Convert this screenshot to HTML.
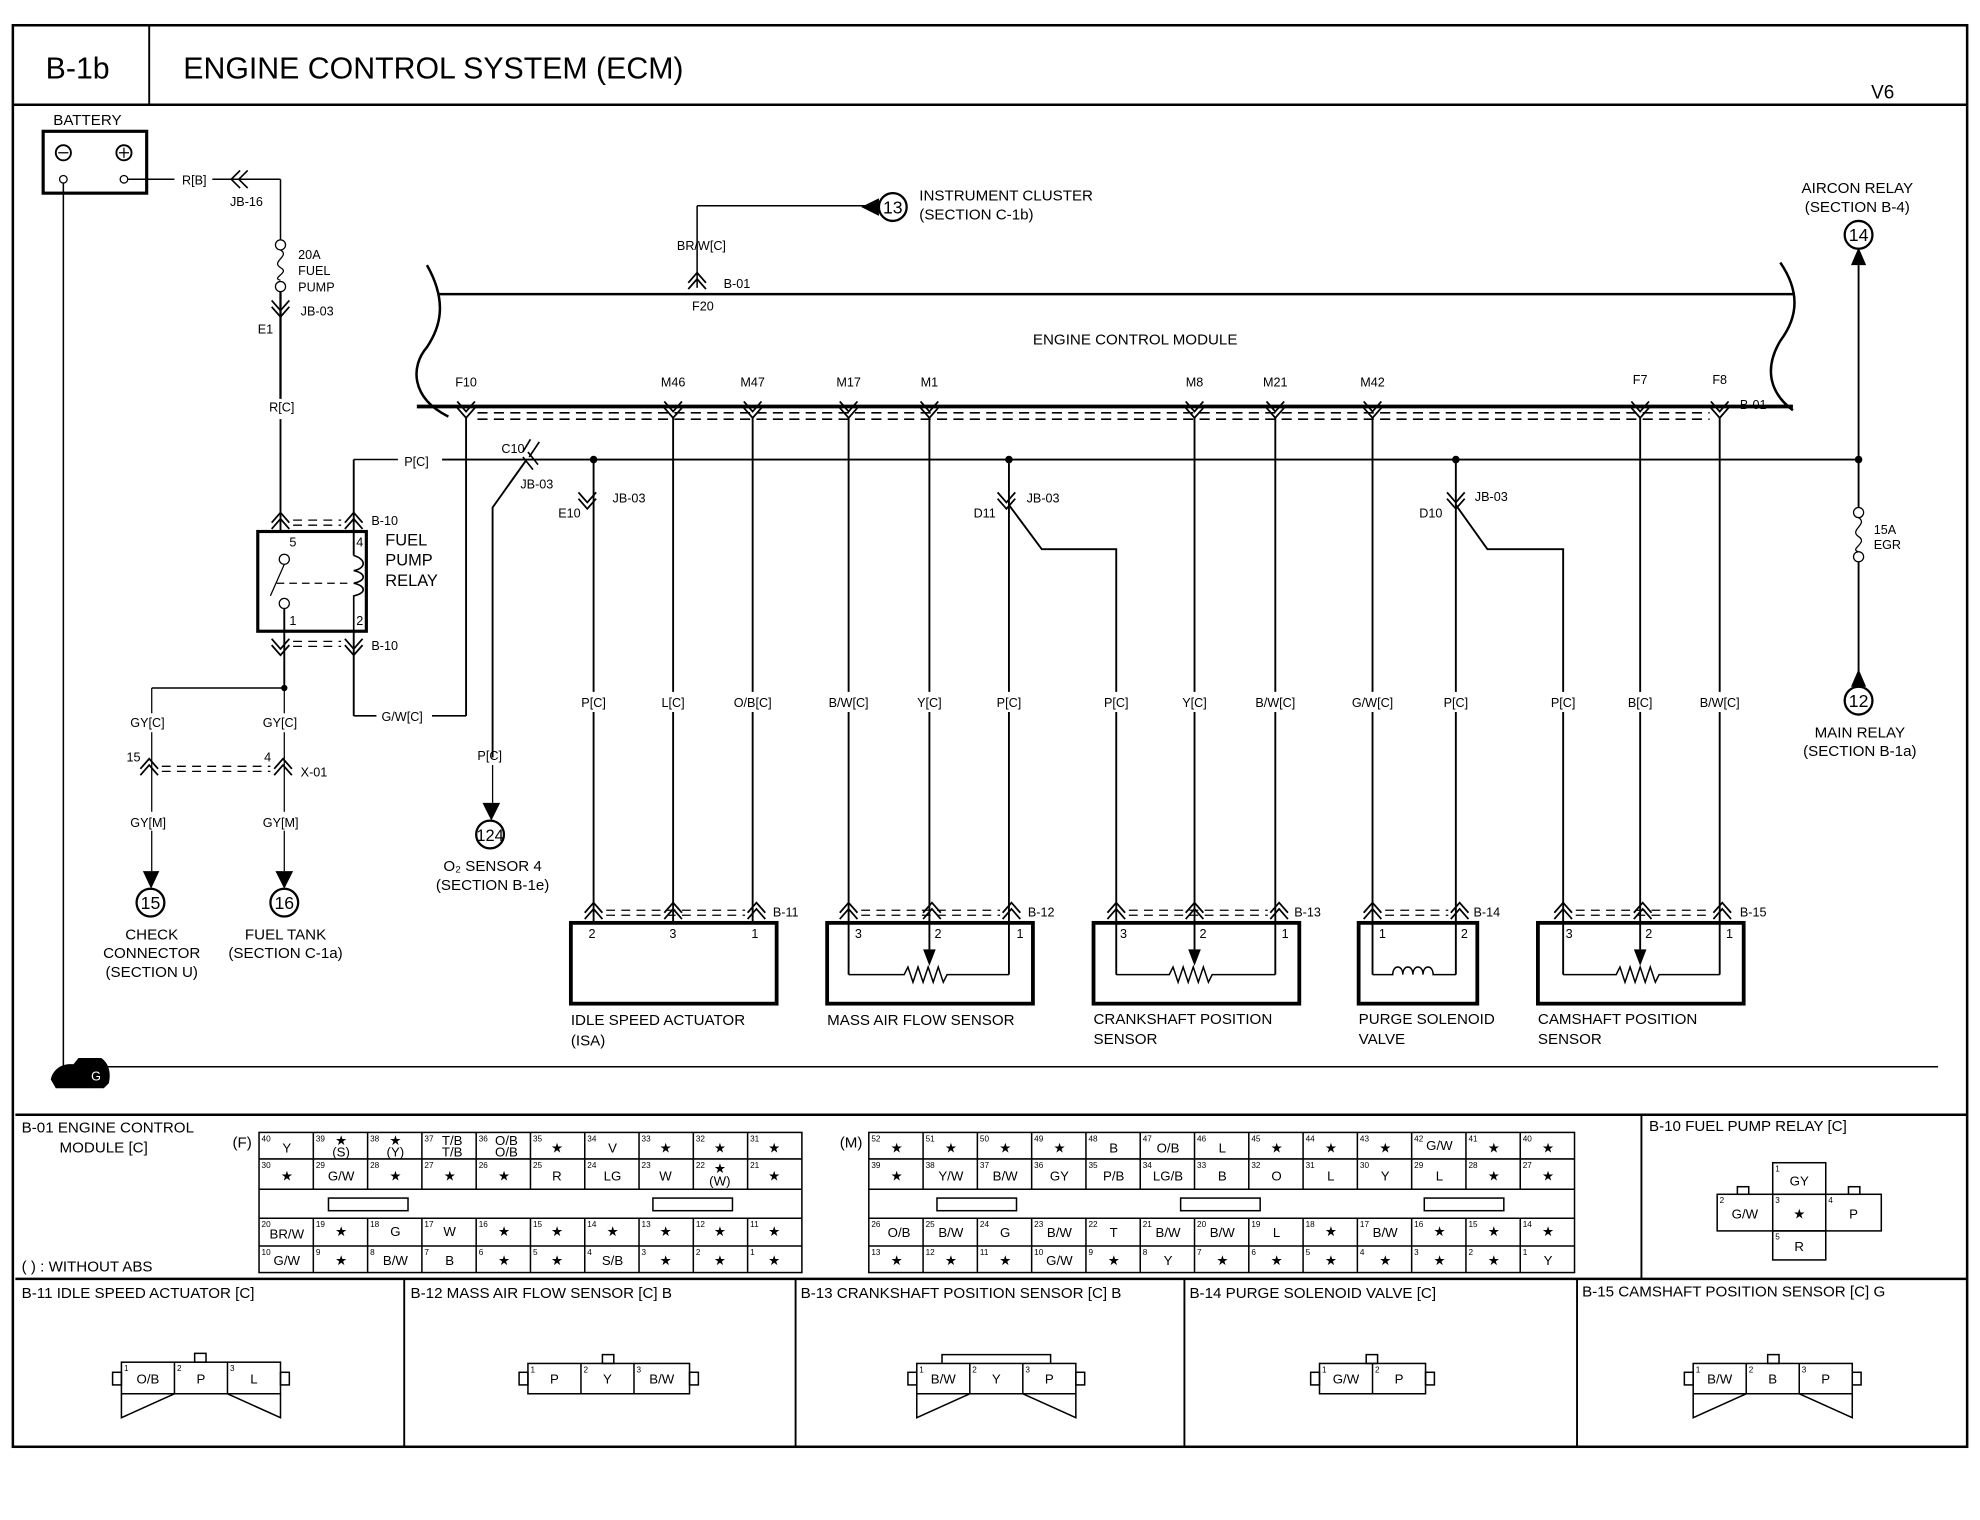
<!DOCTYPE html>
<html><head><meta charset="utf-8">
<style>
html,body{margin:0;padding:0;background:#fff;}
svg{display:block;}
text{font-family:"Liberation Sans",sans-serif;fill:#000;}
.s{font-size:10px;}
.m{font-size:12px;}
.l{font-size:13px;}
.n{font-size:6.5px;}
.c{font-size:10.5px;text-anchor:middle;}
</style></head><body>
<svg width="1980" height="1520" viewBox="0 0 1568 1204" xmlns="http://www.w3.org/2000/svg">
<defs>
<g id="dn" fill="none" stroke="#000" stroke-width="1.4"><path d="M-7,-4 L0,4 L7,-4 M-7,1 L0,9 L7,1"/></g>
<g id="up" fill="none" stroke="#000" stroke-width="1.4"><path d="M-7,4 L0,-4 L7,4 M-7,9 L0,1 L7,9"/></g>
</defs>
<g fill="none" stroke="#000">
<!-- frame -->
<rect x="10" y="20" width="1548" height="1126" stroke-width="2"/>
<line x1="10" y1="83" x2="1558" y2="83" stroke-width="2"/>
<line x1="118" y1="20" x2="118" y2="83" stroke-width="1.5"/>
<line x1="12" y1="883" x2="1558" y2="883" stroke-width="2"/>
<line x1="12" y1="1013" x2="1558" y2="1013" stroke-width="2"/>
<line x1="1300" y1="883" x2="1300" y2="1013" stroke-width="1.5"/>
<line x1="320" y1="1013" x2="320" y2="1146" stroke-width="1.5"/>
<line x1="630" y1="1013" x2="630" y2="1146" stroke-width="1.5"/>
<line x1="938" y1="1013" x2="938" y2="1146" stroke-width="1.5"/>
<line x1="1249" y1="1013" x2="1249" y2="1146" stroke-width="1.5"/>
<line x1="80" y1="845" x2="1535" y2="845" stroke-width="1.2"/>

<!-- battery -->
<rect x="34" y="104" width="82" height="49" stroke-width="2.5"/>
<circle cx="50" cy="121" r="6" stroke-width="1.5"/><line x1="46" y1="121" x2="54" y2="121"/>
<circle cx="98" cy="121" r="6" stroke-width="1.5"/><line x1="94" y1="121" x2="102" y2="121"/><line x1="98" y1="117" x2="98" y2="125"/>
<circle cx="50" cy="142" r="3"/><circle cx="98" cy="142" r="3"/>
<line x1="50" y1="145" x2="50" y2="845" stroke-width="1.2"/>
<line x1="101" y1="142" x2="138" y2="142" stroke-width="1.2"/>
<line x1="168" y1="142" x2="222" y2="142" stroke-width="1.2"/>
<path d="M190,135 L183,142 L190,149 M196,135 L189,142 L196,149" stroke-width="1.3"/>
<line x1="222" y1="142" x2="222" y2="190" stroke-width="1.2"/>
<circle cx="222" cy="194" r="4"/><path d="M222,198 C230,203 214,207 222,212 C230,216 214,220 222,222"/>
<circle cx="222" cy="227" r="4"/>
<line x1="222" y1="231" x2="222" y2="316" stroke-width="1.8"/>
<line x1="222" y1="332" x2="222" y2="420" stroke-width="1.5"/>
<use href="#dn" x="222" y="242"/>
<!-- relay -->
<use href="#up" x="222" y="410"/><use href="#up" x="280" y="410"/>
<path d="M232,412 H270 M232,416 H270" stroke-dasharray="7,5"/>
<rect x="204" y="421" width="86" height="79" stroke-width="2.5"/>
<line x1="280" y1="364" x2="280" y2="440" stroke-width="1.5"/>
<line x1="280" y1="364" x2="315" y2="364" stroke-width="1.2"/>
<circle cx="225" cy="443" r="4"/><circle cx="225" cy="478" r="4"/>
<line x1="225" y1="447" x2="214" y2="472"/>
<line x1="219" y1="462" x2="275" y2="462" stroke-dasharray="6,4"/>
<path d="M280,440 C290,443 290,450 280,452 C290,454 290,460 280,462 C290,464 290,470 280,472 L280,500" stroke-width="1.3"/>
<line x1="225" y1="482" x2="225" y2="545" stroke-width="1.5"/>
<line x1="280" y1="500" x2="280" y2="567" stroke-width="1.5"/>
<use href="#dn" x="222" y="510"/><use href="#dn" x="280" y="510"/>
<path d="M232,508 H270 M232,512 H270" stroke-dasharray="7,5"/>
<line x1="280" y1="567" x2="298" y2="567" stroke-width="1.2"/>
<line x1="342" y1="567" x2="369" y2="567" stroke-width="1.2"/>
<line x1="120" y1="545" x2="225" y2="545" stroke-width="1.2"/>
<line x1="120" y1="545" x2="120" y2="565"/>
<line x1="225" y1="545" x2="225" y2="565"/>
<line x1="120" y1="580" x2="120" y2="643"/>
<line x1="225" y1="580" x2="225" y2="643"/>
<use href="#up" x="118" y="605"/><use href="#up" x="224" y="605"/>
<path d="M128,607 H214 M128,611 H214" stroke-dasharray="7,5"/>
<line x1="120" y1="658" x2="120" y2="690"/>
<line x1="225" y1="658" x2="225" y2="690"/>
<circle cx="119" cy="715" r="11" stroke-width="1.8"/><circle cx="225" cy="715" r="11" stroke-width="1.8"/>

<!-- P[C] main line -->
<line x1="350" y1="364" x2="1472" y2="364" stroke-width="1.5"/>
<!-- C10 -->
<path d="M414,358 L420,348 M419,362 L427,350 M414,362 L422,372 M418,358 L426,368" stroke-width="1.3"/>
<path d="M417,364 L390,402 L390,600" stroke-width="1.5"/>
<line x1="390" y1="606" x2="390" y2="636"/>
<circle cx="388" cy="661" r="11" stroke-width="1.8"/>

<!-- ECM -->
<path d="M338,210 C355,240 348,260 338,275 C325,290 325,315 355,330" stroke-width="2"/>
<path d="M1410,208 C1425,230 1425,250 1410,270 C1398,290 1400,310 1420,325" stroke-width="2"/>
<line x1="347" y1="233" x2="1420" y2="233" stroke-width="2"/>
<line x1="330" y1="322" x2="1420" y2="322" stroke-width="3"/>
<path d="M378,327 H1354 M378,332 H1354" stroke-dasharray="8,5" stroke-width="1.3"/>
<line x1="552" y1="163" x2="552" y2="228" stroke-width="1.2"/>
<line x1="552" y1="163" x2="690" y2="163" stroke-width="1.2"/>
<use href="#up" x="552" y="220"/>
<circle cx="707" cy="164" r="11" stroke-width="1.8"/>
<circle cx="1472" cy="186" r="11" stroke-width="1.8"/>
<circle cx="1472" cy="555" r="11" stroke-width="1.8"/>
<line x1="1472" y1="210" x2="1472" y2="402" stroke-width="1.5"/>
<circle cx="1472" cy="406" r="4"/><path d="M1472,410 C1480,415 1464,420 1472,425 C1480,430 1464,435 1472,437"/><circle cx="1472" cy="441" r="4"/>
<line x1="1472" y1="445" x2="1472" y2="532" stroke-width="1.5"/>

<!-- pin chevrons -->
<use href="#dn" x="369" y="322"/><use href="#dn" x="533" y="322"/><use href="#dn" x="596" y="322"/><use href="#dn" x="672" y="322"/><use href="#dn" x="736" y="322"/><use href="#dn" x="946" y="322"/><use href="#dn" x="1010" y="322"/><use href="#dn" x="1087" y="322"/><use href="#dn" x="1299" y="322"/><use href="#dn" x="1362" y="322"/>
<!-- wires -->
<g stroke-width="1.5">
<line x1="369" y1="330" x2="369" y2="567"/>
<line x1="470" y1="364" x2="470" y2="548"/><line x1="470" y1="564" x2="470" y2="730"/>
<line x1="533" y1="330" x2="533" y2="548"/><line x1="533" y1="564" x2="533" y2="730"/>
<line x1="596" y1="330" x2="596" y2="548"/><line x1="596" y1="564" x2="596" y2="730"/>
<line x1="672" y1="330" x2="672" y2="548"/><line x1="672" y1="564" x2="672" y2="772"/>
<line x1="736" y1="330" x2="736" y2="548"/><line x1="736" y1="564" x2="736" y2="752"/>
<line x1="799" y1="364" x2="799" y2="548"/><line x1="799" y1="564" x2="799" y2="772"/>
<path d="M799,400 L825,435 L884,435 L884,548"/><line x1="884" y1="564" x2="884" y2="772"/>
<line x1="946" y1="330" x2="946" y2="548"/><line x1="946" y1="564" x2="946" y2="752"/>
<line x1="1010" y1="330" x2="1010" y2="548"/><line x1="1010" y1="564" x2="1010" y2="772"/>
<line x1="1087" y1="330" x2="1087" y2="548"/><line x1="1087" y1="564" x2="1087" y2="772"/>
<line x1="1153" y1="364" x2="1153" y2="548"/><line x1="1153" y1="564" x2="1153" y2="772"/>
<path d="M1153,400 L1178,435 L1238,435 L1238,548"/><line x1="1238" y1="564" x2="1238" y2="772"/>
<line x1="1299" y1="330" x2="1299" y2="548"/><line x1="1299" y1="564" x2="1299" y2="752"/>
<line x1="1362" y1="330" x2="1362" y2="548"/><line x1="1362" y1="564" x2="1362" y2="772"/>
</g>
<use href="#dn" x="465" y="394"/><use href="#dn" x="797" y="394"/><use href="#dn" x="1153" y="394"/>
<!-- sensor chevrons -->
<use href="#up" x="470" y="719"/><use href="#up" x="533" y="719"/><use href="#up" x="599" y="719"/>
<use href="#up" x="672" y="719"/><use href="#up" x="738" y="719"/><use href="#up" x="801" y="719"/>
<use href="#up" x="884" y="719"/><use href="#up" x="946" y="719"/><use href="#up" x="1013" y="719"/>
<use href="#up" x="1087" y="719"/><use href="#up" x="1156" y="719"/>
<use href="#up" x="1238" y="719"/><use href="#up" x="1301" y="719"/><use href="#up" x="1364" y="719"/>
<g stroke-dasharray="7,5"><path d="M480,721 H590 M480,725 H590"/><path d="M682,721 H792 M682,725 H792"/><path d="M894,721 H1004 M894,725 H1004"/><path d="M1097,721 H1147 M1097,725 H1147"/><path d="M1248,721 H1355 M1248,725 H1355"/></g>
<!-- sensor boxes -->
<g stroke-width="3">
<rect x="452" y="731" width="163" height="64"/>
<rect x="655" y="731" width="163" height="64"/>
<rect x="866" y="731" width="163" height="64"/>
<rect x="1076" y="731" width="94" height="64"/>
<rect x="1218" y="731" width="163" height="64"/>
</g>
<g stroke-width="1.2">
<path d="M672,772 H716 L719,766 L723,778 L727,766 L731,778 L735,766 L739,778 L743,766 L747,778 L750,772 H799"/>
<path d="M884,772 H926 L929,766 L933,778 L937,766 L941,778 L945,766 L949,778 L953,766 L957,778 L960,772 H1010"/>
<path d="M1238,772 H1280 L1283,766 L1287,778 L1291,766 L1295,778 L1299,766 L1303,778 L1307,766 L1311,778 L1314,772 H1362"/>
<path d="M1087,772 H1103 C1103,764 1111,764 1111,772 C1111,764 1119,764 1119,772 C1119,764 1127,764 1127,772 C1127,764 1135,764 1135,772 H1153"/>
</g>

<!-- tables F -->
<g stroke-width="1.2">
<rect x="205" y="897" width="430" height="111"/>
<path d="M205,918H635M205,942H635M205,965H635M205,987H635"/>
<path d="M248,897V942M291,897V942M334,897V942M377,897V942M420,897V942M463,897V942M506,897V942M549,897V942M592,897V942"/>
<path d="M248,965V1008M291,965V1008M334,965V1008M377,965V1008M420,965V1008M463,965V1008M506,965V1008M549,965V1008M592,965V1008"/>
<rect x="260" y="949" width="63" height="10"/><rect x="517" y="949" width="63" height="10"/>
<rect x="688" y="897" width="559" height="111"/>
<path d="M688,918H1247M688,942H1247M688,965H1247M688,987H1247"/>
<path d="M731,897V942M774,897V942M817,897V942M860,897V942M903,897V942M946,897V942M989,897V942M1032,897V942M1075,897V942M1118,897V942M1161,897V942M1204,897V942"/>
<path d="M731,965V1008M774,965V1008M817,965V1008M860,965V1008M903,965V1008M946,965V1008M989,965V1008M1032,965V1008M1075,965V1008M1118,965V1008M1161,965V1008M1204,965V1008"/>
<rect x="742" y="949" width="63" height="10"/><rect x="935" y="949" width="63" height="10"/><rect x="1128" y="949" width="63" height="10"/>
<!-- B-10 -->
<rect x="1404" y="921" width="42" height="25"/><rect x="1360" y="946" width="130" height="29"/><path d="M1404,946V975M1446,946V975"/><rect x="1404" y="975" width="42" height="23"/>
<rect x="1376" y="940" width="9" height="6"/><rect x="1464" y="940" width="9" height="6"/>
<!-- bottom connectors -->
<rect x="96" y="1079" width="126" height="25"/><path d="M138,1079V1104M180,1079V1104M96,1104V1123L138,1104M222,1104V1123L180,1104"/><rect x="89" y="1087" width="7" height="10"/><rect x="222" y="1087" width="7" height="10"/><rect x="154" y="1072" width="9" height="7"/>
<rect x="418" y="1080" width="128" height="24"/><path d="M460,1080V1104M502,1080V1104"/><rect x="411" y="1087" width="7" height="10"/><rect x="546" y="1087" width="7" height="10"/><rect x="477" y="1073" width="9" height="7"/>
<rect x="726" y="1080" width="126" height="24"/><path d="M768,1080V1104M810,1080V1104M726,1104V1123L768,1104M852,1104V1123L810,1104M746,1080V1073H832V1080"/><rect x="719" y="1087" width="7" height="10"/><rect x="852" y="1087" width="7" height="10"/>
<rect x="1045" y="1080" width="84" height="24"/><path d="M1087,1080V1104"/><rect x="1038" y="1087" width="7" height="10"/><rect x="1129" y="1087" width="7" height="10"/><rect x="1082" y="1073" width="9" height="7"/>
<rect x="1341" y="1080" width="126" height="24"/><path d="M1383,1080V1104M1425,1080V1104M1341,1104V1123L1383,1104M1467,1104V1123L1425,1104"/><rect x="1334" y="1087" width="7" height="10"/><rect x="1467" y="1087" width="7" height="10"/><rect x="1400" y="1073" width="9" height="7"/>
</g>
</g>
<!-- arrows / dots -->
<g fill="#000">
<circle cx="470" cy="364" r="3"/><circle cx="799" cy="364" r="3"/><circle cx="1153" cy="364" r="3"/><circle cx="1472" cy="364" r="3"/><circle cx="225" cy="545" r="2.5"/>
<path d="M113,690 L126,690 L119.5,704 Z"/><path d="M218,690 L232,690 L225,704 Z"/>
<path d="M382,636 L396,636 L389,650 Z"/>
<path d="M682,164 L696,157 L696,171 Z"/>
<path d="M1466,210 L1478,210 L1472,196 Z"/>
<path d="M1466,544 L1478,544 L1472,530 Z"/>
<path d="M731,752 L741,752 L736,765 Z"/><path d="M941,752 L951,752 L946,765 Z"/><path d="M1294,752 L1304,752 L1299,765 Z"/>
<path d="M40,855 C42,846 50,842 58,843 L62,838 L80,838 C86,842 88,850 86,858 L82,862 L44,862 Z"/>
</g>
<text x="72" y="856" style="font-size:10px;fill:#fff">G</text>

<!-- text -->
<text x="36" y="62" style="font-size:24px">B-1b</text>
<text x="145" y="62" style="font-size:24px">ENGINE CONTROL SYSTEM (ECM)</text>
<text x="1482" y="78" style="font-size:15px">V6</text>
<text x="42" y="99" class="m">BATTERY</text>
<text x="144" y="146" class="s">R[B]</text>
<text x="182" y="163" class="s">JB-16</text>
<text x="236" y="205" class="s">20A</text><text x="236" y="218" class="s">FUEL</text><text x="236" y="231" class="s">PUMP</text>
<text x="238" y="250" class="s">JB-03</text><text x="204" y="264" class="s">E1</text>
<text x="213" y="326" class="s">R[C]</text>
<text x="320" y="369" class="s">P[C]</text>
<text x="294" y="416" class="s">B-10</text><text x="294" y="515" class="s">B-10</text>
<text x="229" y="433" class="s">5</text><text x="282" y="433" class="s">4</text><text x="229" y="495" class="s">1</text><text x="282" y="495" class="s">2</text>
<text x="305" y="432" class="l">FUEL</text><text x="305" y="448" class="l">PUMP</text><text x="305" y="464" class="l">RELAY</text>
<text x="302" y="571" class="s">G/W[C]</text>
<text x="103" y="576" class="s">GY[C]</text><text x="208" y="576" class="s">GY[C]</text>
<text x="100" y="603" class="s">15</text><text x="209" y="603" class="s">4</text><text x="238" y="615" class="s">X-01</text>
<text x="103" y="655" class="s">GY[M]</text><text x="208" y="655" class="s">GY[M]</text>
<text x="119" y="720" class="c" style="font-size:14px">15</text><text x="225" y="720" class="c" style="font-size:14px">16</text>
<text x="120" y="744" class="m" text-anchor="middle">CHECK</text><text x="120" y="759" class="m" text-anchor="middle">CONNECTOR</text><text x="120" y="774" class="m" text-anchor="middle">(SECTION U)</text>
<text x="226" y="744" class="m" text-anchor="middle">FUEL TANK</text><text x="226" y="759" class="m" text-anchor="middle">(SECTION C-1a)</text>
<text x="397" y="359" class="s">C10</text><text x="412" y="387" class="s">JB-03</text>
<text x="378" y="602" class="s">P[C]</text>
<text x="388" y="666" class="c" style="font-size:13px">124</text>
<text x="390" y="690" class="m" text-anchor="middle">O₂ SENSOR 4</text><text x="390" y="705" class="m" text-anchor="middle">(SECTION B-1e)</text>
<text x="536" y="198" class="s">BR/W[C]</text><text x="573" y="228" class="s">B-01</text><text x="548" y="246" class="s">F20</text>
<text x="707" y="169" class="c" style="font-size:14px">13</text>
<text x="728" y="159" class="m">INSTRUMENT CLUSTER</text><text x="728" y="174" class="m">(SECTION C-1b)</text>
<text x="899" y="273" class="m" text-anchor="middle">ENGINE CONTROL MODULE</text>
<g class="s" text-anchor="middle"><text x="369" y="306">F10</text><text x="533" y="306">M46</text><text x="596" y="306">M47</text><text x="672" y="306">M17</text><text x="736" y="306">M1</text><text x="946" y="306">M8</text><text x="1010" y="306">M21</text><text x="1087" y="306">M42</text><text x="1299" y="304">F7</text><text x="1362" y="304">F8</text></g>
<text x="1378" y="324" class="s">B-01</text>
<text x="485" y="398" class="s">JB-03</text><text x="442" y="410" class="s">E10</text>
<text x="813" y="398" class="s">JB-03</text><text x="771" y="410" class="s">D11</text>
<text x="1168" y="397" class="s">JB-03</text><text x="1124" y="410" class="s">D10</text>
<g class="s" text-anchor="middle"><text x="470" y="560">P[C]</text><text x="533" y="560">L[C]</text><text x="596" y="560">O/B[C]</text><text x="672" y="560">B/W[C]</text><text x="736" y="560">Y[C]</text><text x="799" y="560">P[C]</text><text x="884" y="560">P[C]</text><text x="946" y="560">Y[C]</text><text x="1010" y="560">B/W[C]</text><text x="1087" y="560">G/W[C]</text><text x="1153" y="560">P[C]</text><text x="1238" y="560">P[C]</text><text x="1299" y="560">B[C]</text><text x="1362" y="560">B/W[C]</text></g>
<text x="1471" y="153" class="m" text-anchor="middle">AIRCON RELAY</text><text x="1471" y="168" class="m" text-anchor="middle">(SECTION B-4)</text>
<text x="1472" y="191" class="c" style="font-size:14px">14</text><text x="1472" y="560" class="c" style="font-size:14px">12</text>
<text x="1484" y="423" class="s">15A</text><text x="1484" y="435" class="s">EGR</text>
<text x="1473" y="584" class="m" text-anchor="middle">MAIN RELAY</text><text x="1473" y="599" class="m" text-anchor="middle">(SECTION B-1a)</text>
<g class="s"><text x="612" y="726">B-11</text><text x="814" y="726">B-12</text><text x="1025" y="726">B-13</text><text x="1167" y="726">B-14</text><text x="1378" y="726">B-15</text></g>
<g class="s"><text x="466" y="743">2</text><text x="530" y="743">3</text><text x="595" y="743">1</text><text x="677" y="743">3</text><text x="740" y="743">2</text><text x="805" y="743">1</text><text x="887" y="743">3</text><text x="950" y="743">2</text><text x="1015" y="743">1</text><text x="1092" y="743">1</text><text x="1157" y="743">2</text><text x="1240" y="743">3</text><text x="1303" y="743">2</text><text x="1367" y="743">1</text></g>
<g class="m"><text x="452" y="812">IDLE SPEED ACTUATOR</text><text x="452" y="828">(ISA)</text><text x="655" y="812">MASS AIR FLOW SENSOR</text><text x="866" y="811">CRANKSHAFT POSITION</text><text x="866" y="827">SENSOR</text><text x="1076" y="811">PURGE SOLENOID</text><text x="1076" y="827">VALVE</text><text x="1218" y="811">CAMSHAFT POSITION</text><text x="1218" y="827">SENSOR</text></g>

<g class="m"><text x="17" y="897">B-01 ENGINE CONTROL</text><text x="47" y="913">MODULE [C]</text><text x="184" y="909">(F)</text><text x="665" y="909">(M)</text><text x="17" y="1007">(  ) : WITHOUT ABS</text><text x="1306" y="896">B-10 FUEL PUMP RELAY [C]</text>
<text x="17" y="1028">B-11 IDLE SPEED ACTUATOR [C]</text><text x="325" y="1028">B-12 MASS AIR FLOW SENSOR [C] B</text><text x="634" y="1028">B-13 CRANKSHAFT POSITION SENSOR [C] B</text><text x="942" y="1028">B-14 PURGE SOLENOID VALVE [C]</text><text x="1253" y="1027">B-15 CAMSHAFT POSITION SENSOR [C] G</text></g>

<!-- F table numbers/text -->
<g class="n"><text x="207" y="904">40</text><text x="250" y="904">39</text><text x="293" y="904">38</text><text x="336" y="904">37</text><text x="379" y="904">36</text><text x="422" y="904">35</text><text x="465" y="904">34</text><text x="508" y="904">33</text><text x="551" y="904">32</text><text x="594" y="904">31</text>
<text x="207" y="925">30</text><text x="250" y="925">29</text><text x="293" y="925">28</text><text x="336" y="925">27</text><text x="379" y="925">26</text><text x="422" y="925">25</text><text x="465" y="925">24</text><text x="508" y="925">23</text><text x="551" y="925">22</text><text x="594" y="925">21</text>
<text x="207" y="972">20</text><text x="250" y="972">19</text><text x="293" y="972">18</text><text x="336" y="972">17</text><text x="379" y="972">16</text><text x="422" y="972">15</text><text x="465" y="972">14</text><text x="508" y="972">13</text><text x="551" y="972">12</text><text x="594" y="972">11</text>
<text x="207" y="994">10</text><text x="250" y="994">9</text><text x="293" y="994">8</text><text x="336" y="994">7</text><text x="379" y="994">6</text><text x="422" y="994">5</text><text x="465" y="994">4</text><text x="508" y="994">3</text><text x="551" y="994">2</text><text x="594" y="994">1</text></g>
<g class="c"><text x="227" y="913">Y</text><text x="270" y="907">★</text><text x="270" y="916">(S)</text><text x="313" y="907">★</text><text x="313" y="916">(Y)</text><text x="358" y="907">T/B</text><text x="358" y="916">T/B</text><text x="401" y="907">O/B</text><text x="401" y="916">O/B</text><text x="441" y="913">★</text><text x="485" y="913">V</text><text x="527" y="913">★</text><text x="570" y="913">★</text><text x="613" y="913">★</text>
<text x="227" y="935">★</text><text x="270" y="935">G/W</text><text x="313" y="935">★</text><text x="356" y="935">★</text><text x="399" y="935">★</text><text x="441" y="935">R</text><text x="485" y="935">LG</text><text x="527" y="935">W</text><text x="570" y="929">★</text><text x="570" y="939">(W)</text><text x="613" y="935">★</text>
<text x="227" y="981">BR/W</text><text x="270" y="979">★</text><text x="313" y="979">G</text><text x="356" y="979">W</text><text x="399" y="979">★</text><text x="441" y="979">★</text><text x="485" y="979">★</text><text x="527" y="979">★</text><text x="570" y="979">★</text><text x="613" y="979">★</text>
<text x="227" y="1002">G/W</text><text x="270" y="1002">★</text><text x="313" y="1002">B/W</text><text x="356" y="1002">B</text><text x="399" y="1002">★</text><text x="441" y="1002">★</text><text x="485" y="1002">S/B</text><text x="527" y="1002">★</text><text x="570" y="1002">★</text><text x="613" y="1002">★</text></g>
<!-- M table -->
<g class="n"><text x="690" y="904">52</text><text x="733" y="904">51</text><text x="776" y="904">50</text><text x="819" y="904">49</text><text x="862" y="904">48</text><text x="905" y="904">47</text><text x="948" y="904">46</text><text x="991" y="904">45</text><text x="1034" y="904">44</text><text x="1077" y="904">43</text><text x="1120" y="904">42</text><text x="1163" y="904">41</text><text x="1206" y="904">40</text>
<text x="690" y="925">39</text><text x="733" y="925">38</text><text x="776" y="925">37</text><text x="819" y="925">36</text><text x="862" y="925">35</text><text x="905" y="925">34</text><text x="948" y="925">33</text><text x="991" y="925">32</text><text x="1034" y="925">31</text><text x="1077" y="925">30</text><text x="1120" y="925">29</text><text x="1163" y="925">28</text><text x="1206" y="925">27</text>
<text x="690" y="972">26</text><text x="733" y="972">25</text><text x="776" y="972">24</text><text x="819" y="972">23</text><text x="862" y="972">22</text><text x="905" y="972">21</text><text x="948" y="972">20</text><text x="991" y="972">19</text><text x="1034" y="972">18</text><text x="1077" y="972">17</text><text x="1120" y="972">16</text><text x="1163" y="972">15</text><text x="1206" y="972">14</text>
<text x="690" y="994">13</text><text x="733" y="994">12</text><text x="776" y="994">11</text><text x="819" y="994">10</text><text x="862" y="994">9</text><text x="905" y="994">8</text><text x="948" y="994">7</text><text x="991" y="994">6</text><text x="1034" y="994">5</text><text x="1077" y="994">4</text><text x="1120" y="994">3</text><text x="1163" y="994">2</text><text x="1206" y="994">1</text></g>
<g class="c"><text x="710" y="913">★</text><text x="753" y="913">★</text><text x="796" y="913">★</text><text x="839" y="913">★</text><text x="882" y="913">B</text><text x="925" y="913">O/B</text><text x="968" y="913">L</text><text x="1011" y="913">★</text><text x="1054" y="913">★</text><text x="1097" y="913">★</text><text x="1140" y="911">G/W</text><text x="1183" y="913">★</text><text x="1226" y="913">★</text>
<text x="710" y="935">★</text><text x="753" y="935">Y/W</text><text x="796" y="935">B/W</text><text x="839" y="935">GY</text><text x="882" y="935">P/B</text><text x="925" y="935">LG/B</text><text x="968" y="935">B</text><text x="1011" y="935">O</text><text x="1054" y="935">L</text><text x="1097" y="935">Y</text><text x="1140" y="935">L</text><text x="1183" y="935">★</text><text x="1226" y="935">★</text>
<text x="712" y="980">O/B</text><text x="753" y="980">B/W</text><text x="796" y="980">G</text><text x="839" y="980">B/W</text><text x="882" y="980">T</text><text x="925" y="980">B/W</text><text x="968" y="980">B/W</text><text x="1011" y="980">L</text><text x="1054" y="979">★</text><text x="1097" y="980">B/W</text><text x="1140" y="979">★</text><text x="1183" y="979">★</text><text x="1226" y="979">★</text>
<text x="710" y="1002">★</text><text x="753" y="1002">★</text><text x="796" y="1002">★</text><text x="839" y="1002">G/W</text><text x="882" y="1002">★</text><text x="925" y="1002">Y</text><text x="968" y="1002">★</text><text x="1011" y="1002">★</text><text x="1054" y="1002">★</text><text x="1097" y="1002">★</text><text x="1140" y="1002">★</text><text x="1183" y="1002">★</text><text x="1226" y="1002">Y</text></g>
<!-- B-10 cells -->
<g class="n"><text x="1406" y="928">1</text><text x="1362" y="953">2</text><text x="1406" y="953">3</text><text x="1448" y="953">4</text><text x="1406" y="982">5</text></g>
<g class="c"><text x="1425" y="939">GY</text><text x="1382" y="965">G/W</text><text x="1425" y="965">★</text><text x="1468" y="965">P</text><text x="1425" y="991">R</text></g>
<!-- bottom connector labels -->
<g class="n"><text x="98" y="1086">1</text><text x="140" y="1086">2</text><text x="182" y="1086">3</text><text x="420" y="1087">1</text><text x="462" y="1087">2</text><text x="504" y="1087">3</text><text x="728" y="1087">1</text><text x="770" y="1087">2</text><text x="812" y="1087">3</text><text x="1047" y="1087">1</text><text x="1089" y="1087">2</text><text x="1343" y="1087">1</text><text x="1385" y="1087">2</text><text x="1427" y="1087">3</text></g>
<g class="c"><text x="117" y="1096">O/B</text><text x="159" y="1096">P</text><text x="201" y="1096">L</text><text x="439" y="1096">P</text><text x="481" y="1096">Y</text><text x="524" y="1096">B/W</text><text x="747" y="1096">B/W</text><text x="789" y="1096">Y</text><text x="831" y="1096">P</text><text x="1066" y="1096">G/W</text><text x="1108" y="1096">P</text><text x="1362" y="1096">B/W</text><text x="1404" y="1096">B</text><text x="1446" y="1096">P</text></g>
</svg>
</body></html>
